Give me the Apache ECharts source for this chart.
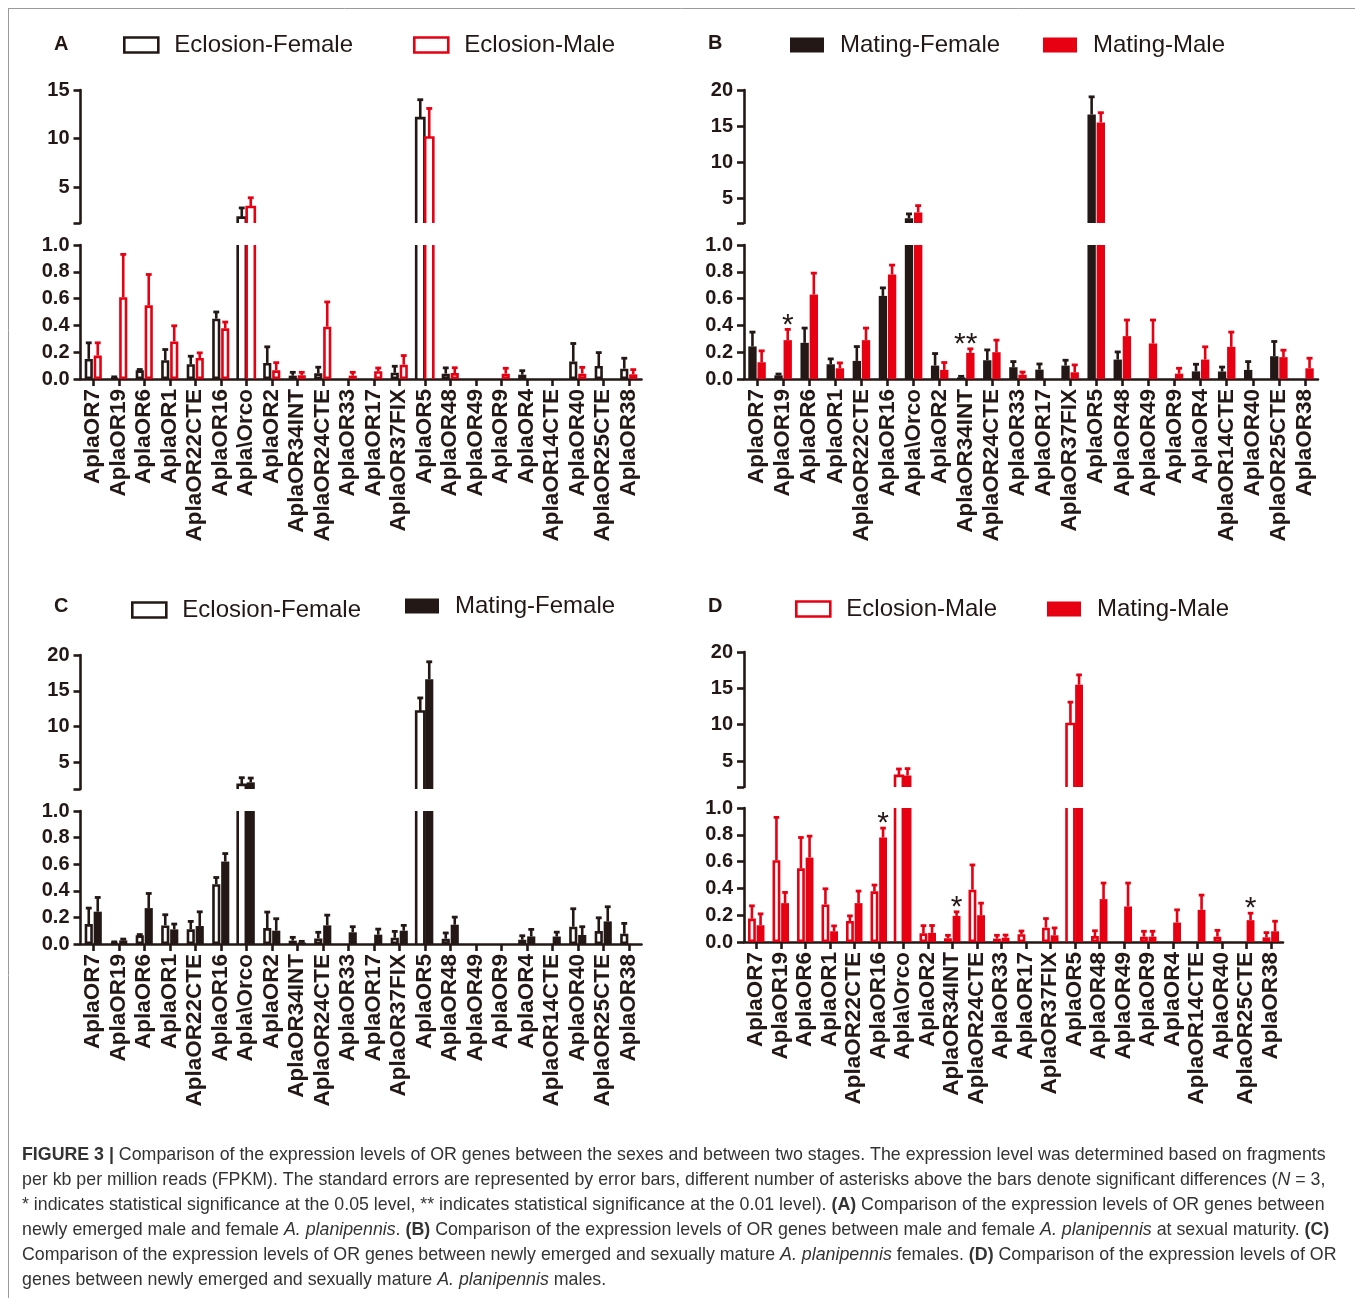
<!DOCTYPE html>
<html><head><meta charset="utf-8">
<script src="https://cdn.jsdelivr.net/npm/echarts@6.0.0/dist/echarts.min.js"></script>
<style>html,body{margin:0;padding:0;background:#fff}#c{width:1355px;height:1298px}</style>
</head><body><div id="c"></div>
<script>
// ---------------- data ----------------
const categories = ['AplaOR7','AplaOR19','AplaOR6','AplaOR1','AplaOR22CTE','AplaOR16','Apla\\Orco','AplaOR2','AplaOR34INT','AplaOR24CTE','AplaOR33','AplaOR17','AplaOR37FIX','AplaOR5','AplaOR48','AplaOR49','AplaOR9','AplaOR4','AplaOR14CTE','AplaOR40','AplaOR25CTE','AplaOR38'];

const eclosionFemale   = [0.15, 0.012, 0.065, 0.14, 0.11, 0.45, 1.85, 0.12, 0.025, 0.042, 0, 0, 0.047, 12.1, 0.04, 0, 0, 0.032, 0, 0.13, 0.097, 0.077];
const eclosionFemaleSE = [0.12, 0.004, 0.006, 0.08, 0.06, 0.05, 1.0, 0.12, 0.025, 0.046, 0, 0, 0.048, 1.9, 0.043, 0, 0, 0.03, 0, 0.135, 0.1, 0.078];

const eclosionMale     = [0.175, 0.61, 0.55, 0.28, 0.157, 0.378, 2.95, 0.065, 0.028, 0.39, 0.025, 0.058, 0.107, 10.1, 0.044, 0, 0.04, 0, 0, 0.04, 0, 0.035];
const eclosionMaleSE   = [0.095, 0.32, 0.23, 0.117, 0.038, 0.047, 0.95, 0.057, 0.022, 0.185, 0.025, 0.024, 0.068, 3.0, 0.04, 0, 0.04, 0, 0, 0.047, 0, 0.035];

const matingFemale     = [0.243, 0.027, 0.27, 0.11, 0.135, 0.62, 2.2, 0.10, 0.012, 0.14, 0.088, 0.07, 0.10, 16.6, 0.145, 0, 0, 0.057, 0.056, 0.068, 0.17, 0];
const matingFemaleSE   = [0.107, 0.01, 0.11, 0.04, 0.107, 0.06, 0.6, 0.09, 0.008, 0.077, 0.042, 0.042, 0.04, 2.45, 0.057, 0, 0, 0.053, 0.033, 0.062, 0.11, 0];

const matingMale       = [0.125, 0.29, 0.63, 0.08, 0.29, 0.78, 3.0, 0.068, 0.195, 0.20, 0.032, 0, 0.05, 15.5, 0.32, 0.265, 0.04, 0.145, 0.24, 0, 0.163, 0.08];
const matingMaleSE     = [0.085, 0.08, 0.16, 0.04, 0.09, 0.07, 0.95, 0.055, 0.03, 0.09, 0.02, 0, 0.055, 1.35, 0.12, 0.175, 0.04, 0.095, 0.11, 0, 0.052, 0.075];

const lowerTicks = [0, 0.2, 0.4, 0.6, 0.8, 1.0];
const upperTicksA = [5, 10, 15];
const upperTicks = [5, 10, 15, 20];

// significance marks: [category, mark]  (placed above Mating-Male bars)
const starsB = [['AplaOR19', '*'], ['AplaOR34INT', '**']];
const starsD = [['AplaOR16', '*'], ['AplaOR34INT', '*'], ['AplaOR25CTE', '*']];

const captionLines = [
  '{b|FIGURE 3 |} Comparison of the expression levels of OR genes between the sexes and between two stages. The expression level was determined based on fragments',
  'per kb per million reads (FPKM). The standard errors are represented by error bars, different number of asterisks above the bars denote significant differences ({i|N} = 3,',
  '* indicates statistical significance at the 0.05 level, ** indicates statistical significance at the 0.01 level). {b|(A)} Comparison of the expression levels of OR genes between',
  'newly emerged male and female {i|A. planipennis}. {b|(B)} Comparison of the expression levels of OR genes between male and female {i|A. planipennis} at sexual maturity. {b|(C)}',
  'Comparison of the expression levels of OR genes between newly emerged and sexually mature {i|A. planipennis} females. {b|(D)} Comparison of the expression levels of OR',
  'genes between newly emerged and sexually mature {i|A. planipennis} males.'
];

// ---------------- styling / layout ----------------
const BLACK = '#231815', RED = '#e60012';
const FONT = '"Liberation Sans", Arial, Helvetica, sans-serif';
const BAR_FRAC = 0.32, GAP = 0.1, LW = 2.6;

const EF = {name:'Eclosion-Female', data:eclosionFemale, se:eclosionFemaleSE, color:BLACK, hollow:true};
const EM = {name:'Eclosion-Male', data:eclosionMale, se:eclosionMaleSE, color:RED, hollow:true};
const MF = {name:'Mating-Female', data:matingFemale, se:matingFemaleSE, color:BLACK, hollow:false};
const MM = {name:'Mating-Male', data:matingMale, se:matingMaleSE, color:RED, hollow:false};

const panels = [
  {letter:'A', lx:62, ly:45, left:80.5, width:561, upTop:90, upH:133, loTop:245, loH:134, upMin:1.3, upMax:15, upLabels:upperTicksA,
   series:[EF, EM], legends:[[123,33],[413,33]], stars:[]},
  {letter:'B', lx:716, ly:44, left:744, width:574, upTop:90, upH:133, loTop:245, loH:134, upMin:1.54, upMax:20, upLabels:upperTicks,
   series:[MF, MM], legends:[[790,33],[1043,33]], stars:starsB},
  {letter:'C', lx:62, ly:607, left:80.5, width:561, upTop:655, upH:134, loTop:811, loH:133, upMin:1.27, upMax:20, upLabels:upperTicks,
   series:[EF, MF], legends:[[131,598],[405,594]], stars:[]},
  {letter:'D', lx:716, ly:607, left:744, width:539, upTop:652, upH:135, loTop:808, loH:134, upMin:1.42, upMax:20, upLabels:upperTicks,
   series:[EM, MM], legends:[[795,597],[1047,597]], stars:starsD}
];

const grid = [], xAxis = [], yAxis = [], series = [], legend = [], graphic = [];

// hollow bars that run past their grid are drawn open-ended by the custom series
function isOpenHollow(s, v, lower, upMin) {
  if (!s.hollow) return false;
  return lower ? v > 1 : v >= upMin;
}

function barSeries(s, g, lower, upMin) {
  const style = s.hollow ? {color:'#ffffff', borderColor:s.color, borderWidth:LW} : {color:s.color, borderWidth:0};
  return {
    type:'bar', name:s.name, xAxisIndex:g, yAxisIndex:g,
    data: s.data.map(v => {
      if (v === 0) return '-';
      if (isOpenHollow(s, v, lower, upMin)) return {value:v, itemStyle:{color:'rgba(0,0,0,0)', borderWidth:0}};
      return v;
    }),
    barWidth: (BAR_FRAC*100)+'%', barGap: (GAP*100)+'%',
    itemStyle: style, clip:true, silent:true, z:2
  };
}

function errSeries(s, g, sign, lower, upMin) {
  return {
    type:'custom', xAxisIndex:g, yAxisIndex:g, silent:true, z:3, clip:true,
    data: s.data.map((v,i) => [i, v, s.se[i]]),
    renderItem: function(params, api) {
      const i = api.value(0), v = api.value(1), e = api.value(2);
      if (!v) return null;
      const bw = api.size([1,0])[0];
      const barW = bw*BAR_FRAC;
      const off = sign * barW*(1+GAP)/2;
      const pv = api.coord([i, v]);
      const x = pv[0] + off;
      const children = [];
      if (isOpenHollow(s, v, lower, upMin)) {
        if (lower) {
          const y0 = api.coord([i, 0])[1], y1 = api.coord([i, 1])[1];
          children.push({type:'line', shape:{x1:x-barW/2, y1:y0, x2:x-barW/2, y2:y1}, style:{stroke:s.color, lineWidth:LW}});
          children.push({type:'line', shape:{x1:x+barW/2, y1:y0, x2:x+barW/2, y2:y1}, style:{stroke:s.color, lineWidth:LW}});
        } else {
          const yb = api.coord([i, upMin])[1];
          children.push({type:'polyline', shape:{points:[[x-barW/2, yb], [x-barW/2, pv[1]], [x+barW/2, pv[1]], [x+barW/2, yb]]},
            style:{stroke:s.color, lineWidth:LW, fill:null, lineJoin:'miter'}});
        }
      }
      const showErr = e && (lower ? v < 1 : v >= upMin);
      if (showErr) {
        const p1 = api.coord([i, v+e]);
        const cap = barW*0.72;
        children.push({type:'line', shape:{x1:x, y1:pv[1], x2:x, y2:p1[1]}, style:{stroke:s.color, lineWidth:LW}});
        children.push({type:'line', shape:{x1:x-cap/2, y1:p1[1], x2:x+cap/2, y2:p1[1]}, style:{stroke:s.color, lineWidth:2.8}});
      }
      return children.length ? {type:'group', children} : null;
    }
  };
}

function starSeries(stars, s, g) {
  const idx = stars.map(st => categories.indexOf(st[0]));
  return {
    type:'custom', xAxisIndex:g, yAxisIndex:g, silent:true, z:4,
    data: idx.map(i => [i, s.data[i] + s.se[i]]),
    renderItem: function(params, api) {
      const i = api.value(0), top = api.value(1);
      const bw = api.size([1,0])[0];
      const off = bw*BAR_FRAC*(1+GAP)/2;
      const p = api.coord([i, top]);
      const txt = stars[params.dataIndex][1];
      return {type:'text', x: p[0] + (txt.length > 1 ? 0 : off), y: p[1] - 4,
        style:{text: txt, fill:BLACK, font:'30px ' + FONT, align:'center', verticalAlign:'middle'}};
    }
  };
}

panels.forEach((P, pi) => {
  const gU = pi*2, gL = pi*2+1;
  grid.push({left:P.left, top:P.upTop, width:P.width, height:P.upH, outerBoundsMode:'none', containLabel:false});
  grid.push({left:P.left, top:P.loTop, width:P.width, height:P.loH, outerBoundsMode:'none', containLabel:false});

  xAxis.push({type:'category', gridIndex:gU, data:categories, show:false});
  xAxis.push({type:'category', gridIndex:gL, data:categories,
    axisLine:{show:true, lineStyle:{color:BLACK, width:LW}},
    axisTick:{show:true, alignWithLabel:true, length:7, lineStyle:{color:BLACK, width:LW}},
    axisLabel:{interval:0, rotate:90, margin:10, color:BLACK, fontSize:22.5, fontWeight:'bold', fontFamily:FONT}
  });

  yAxis.push({type:'value', gridIndex:gU, min:P.upMin, max:P.upMax, splitLine:{show:false},
    axisLine:{show:true, lineStyle:{color:BLACK, width:LW}},
    axisTick:{show:true, length:7, lineStyle:{color:BLACK, width:LW}, customValues:[P.upMin].concat(P.upLabels)},
    axisLabel:{customValues:P.upLabels, margin:11, color:BLACK, fontSize:20, fontWeight:'bold', fontFamily:FONT}
  });
  yAxis.push({type:'value', gridIndex:gL, min:0, max:1, splitLine:{show:false},
    axisLine:{show:true, lineStyle:{color:BLACK, width:LW}},
    axisTick:{show:true, length:7, lineStyle:{color:BLACK, width:LW}, customValues:lowerTicks},
    axisLabel:{customValues:lowerTicks, margin:11, color:BLACK, fontSize:20, fontWeight:'bold', fontFamily:FONT,
      formatter: v => Number(v).toFixed(1)}
  });

  P.series.forEach((s, si) => {
    const sign = si === 0 ? -1 : 1;
    series.push(barSeries(s, gU, false, P.upMin));
    series.push(barSeries(s, gL, true, P.upMin));
    series.push(errSeries(s, gU, sign, false, P.upMin));
    series.push(errSeries(s, gL, sign, true, P.upMin));
  });
  if (P.stars.length) series.push(starSeries(P.stars, P.series[1], gL));

  P.series.forEach((s, si) => {
    legend.push({left:P.legends[si][0], top:P.legends[si][1], padding:0, orient:'horizontal',
      itemWidth:34, itemHeight:15, selectedMode:false,
      textStyle:{fontSize:24, color:BLACK, fontFamily:FONT, lineHeight:24, padding:[0,0,0,11]},
      data:[{name:s.name, icon:'rect',
        itemStyle: s.hollow ? {color:'#ffffff', borderColor:s.color, borderWidth:LW} : {color:s.color, borderWidth:0}}]
    });
  });

  graphic.push({type:'text', left:P.lx - 8, top:P.ly - 11,
    style:{text:P.letter, fill:BLACK, font:'bold 20px ' + FONT}});
});

// frame
graphic.push({type:'line', shape:{x1:8, y1:8.5, x2:1355, y2:8.5}, style:{stroke:'#9a9a9a', lineWidth:1}});
graphic.push({type:'line', shape:{x1:8.5, y1:8, x2:8.5, y2:1298}, style:{stroke:'#9a9a9a', lineWidth:1}});

// caption
captionLines.forEach((t, k) => {
  graphic.push({type:'text', left:22, top:1146 + k*25,
    style:{text:t, fill:'#333333', font:'17.8px ' + FONT,
      rich:{
        b:{fill:'#333333', fontSize:17.8, fontFamily:FONT, fontWeight:'bold'},
        i:{fill:'#333333', fontSize:17.8, fontFamily:FONT, fontStyle:'italic'}
      }}});
});

const chart = echarts.init(document.getElementById('c'), null, {renderer:'canvas'});
chart.setOption({
  animation:false, backgroundColor:'#ffffff',
  grid, xAxis, yAxis, series, legend, graphic
});
</script></body></html>
